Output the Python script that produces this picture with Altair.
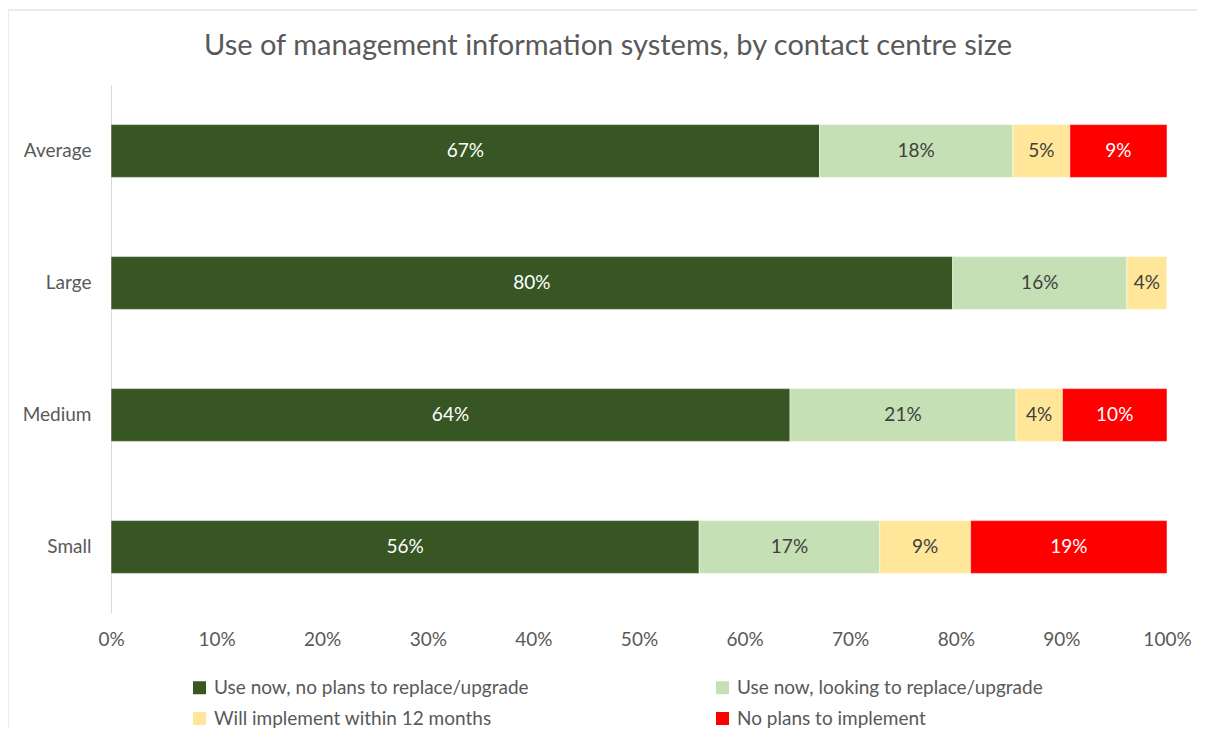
import altair as alt
import pandas as pd

sizes = ["Average", "Large", "Medium", "Small"]
series = [
    "Use now, no plans to replace/upgrade",
    "Use now, looking to replace/upgrade",
    "Will implement within 12 months",
    "No plans to implement",
]
use_now_no_plans = [67.1, 79.7, 64.3, 55.7]
use_now_replace = [18.3, 16.5, 21.4, 17.1]
implement_12m = [5.4, 3.8, 4.4, 8.6]
no_plans = [9.2, 0.0, 9.9, 18.6]
colors = ["#375623", "#C5E0B4", "#FFE699", "#FF0000"]
label_colors = ["#FFFFFF", "#404040", "#404040", "#FFFFFF"]
x_ticks = [0.0, 0.1, 0.2, 0.3, 0.4, 0.5, 0.6, 0.7, 0.8, 0.9, 1.0]

FONT = "Lato"
GREY = "#595959"
FS = 19

values_by_series = [use_now_no_plans, use_now_replace, implement_12m, no_plans]
rows = []
for i, size in enumerate(sizes):
    cum = 0.0
    for j, s in enumerate(series):
        v = values_by_series[j][i] / 100.0
        rows.append({
            "size": size,
            "series": s,
            "start": cum,
            "end": cum + v,
            "mid": cum + v / 2,
            "value": v,
            "label": f"{round(values_by_series[j][i])}%",
            "tcolor": label_colors[j],
        })
        cum += v
df = pd.DataFrame(rows)
df_lab = df[df["value"] > 0]

y_enc = alt.Y(
    "size:N", sort=sizes, title=None,
    scale=alt.Scale(domain=sizes, paddingInner=0.6, paddingOuter=0.3),
    axis=alt.Axis(domainColor="#d9d9d9", domainWidth=1, ticks=False, grid=False,
                  labelPadding=20, labelFontSize=FS, labelColor=GREY, labelFont=FONT),
)

bars = alt.Chart(df).mark_bar(stroke="#ffffff", strokeWidth=0.5).encode(
    y=y_enc,
    x=alt.X("start:Q", title=None, scale=alt.Scale(domain=[0, 1], nice=False, zero=True),
            axis=alt.Axis(values=x_ticks, format=".0%", domain=False, ticks=False, grid=False,
                          labelFlush=False, labelOverlap=False,
                          labelPadding=17, labelFontSize=FS, labelColor=GREY, labelFont=FONT)),
    x2="end:Q",
    color=alt.Color("series:N", sort=series,
                    scale=alt.Scale(domain=series, range=colors),
                    legend=alt.Legend(title=None, orient="none", legendX=79, legendY=593,
                                      direction="horizontal", columns=2, columnPadding=184,
                                      rowPadding=11, symbolType="square", symbolSize=169,
                                      symbolStrokeWidth=0, labelFontSize=FS, labelColor=GREY,
                                      labelFont=FONT, labelOffset=5, padding=0, labelLimit=450)),
)

text = alt.Chart(df_lab).mark_text(fontSize=FS, font=FONT).encode(
    y=alt.Y("size:N", sort=sizes),
    x=alt.X("mid:Q"),
    text="label:N",
    color=alt.Color("tcolor:N", scale=None),
)

border = alt.Chart(pd.DataFrame({"a": [0]})).mark_rect(
    fillOpacity=0, stroke="#d9d9d9", strokeWidth=1
).encode(
    x=alt.value(-103), x2=alt.value(1110), y=alt.value(-75), y2=alt.value(680)
)

chart = alt.layer(border, bars, text).properties(
    width=1056, height=528,
    title=alt.TitleParams("Use of management information systems, by contact centre size",
                          font=FONT, fontSize=29, fontWeight="normal", color=GREY,
                          anchor="middle", frame="group", dx=-31, offset=-51),
    padding={"left": 103, "top": 77, "right": 30, "bottom": 115},
    autosize=alt.AutoSizeParams(type="none"),
).configure_view(stroke=None)

chart.save("out.html", embed_options={"renderer": "svg", "actions": False})
